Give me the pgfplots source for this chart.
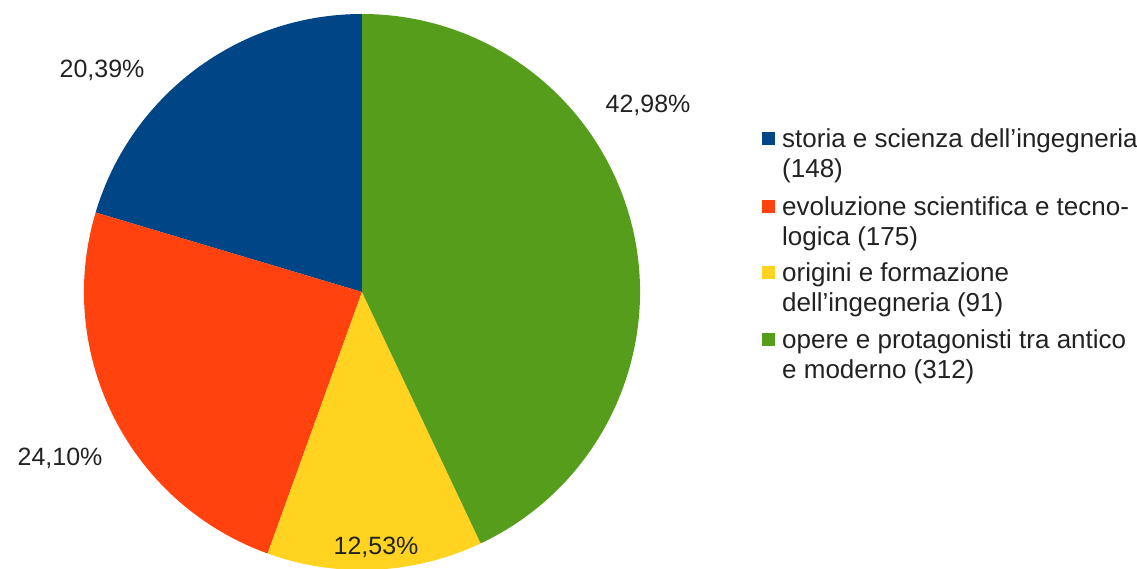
\documentclass[border=0pt]{standalone}
\usepackage{pgfplots}
\usepackage{pgfplotstable}
\pgfplotsset{compat=1.18}
\usepackage{fontspec}
\setmainfont{Liberation Sans}
\definecolor{cA}{HTML}{004586}
\definecolor{cB}{HTML}{FF420E}
\definecolor{cC}{HTML}{FFD320}
\definecolor{cD}{HTML}{579D1C}
\definecolor{txt}{HTML}{222222}

\pgfplotstableread{
label value
storia 148
evoluzione 175
origini 91
opere 312
}\piedata

\begin{document}%
\begin{tikzpicture}
\pgfplotstablegetelem{0}{value}\of\piedata \let\vA\pgfplotsretval
\pgfplotstablegetelem{1}{value}\of\piedata \let\vB\pgfplotsretval
\pgfplotstablegetelem{2}{value}\of\piedata \let\vC\pgfplotsretval
\pgfplotstablegetelem{3}{value}\of\piedata \let\vD\pgfplotsretval
\pgfmathsetmacro\tot{\vA+\vB+\vC+\vD}
\pgfmathsetmacro\aA{90}
\pgfmathsetmacro\aB{\aA+360*(\vA/\tot)}
\pgfmathsetmacro\aC{\aB+360*(\vB/\tot)}
\pgfmathsetmacro\aD{\aC+360*(\vC/\tot)}
\pgfmathsetmacro\aE{\aD+360*(\vD/\tot)}
\useasboundingbox (0,0) rectangle (1137bp,569bp);
\begin{axis}[
  at={(0,0)}, anchor=south west,
  scale only axis, width=1137bp, height=569bp,
  xmin=0, xmax=1137, ymin=0, ymax=569,
  hide axis, clip=false,
]
\def\cx{362}\def\cy{277}\def\R{278}
\fill[cA] (axis cs:\cx,\cy) -- (axis cs:{\cx+\R*cos(\aA)},{\cy+\R*sin(\aA)}) arc[start angle=\aA, end angle=\aB, radius=278bp] -- cycle;
\fill[cB] (axis cs:\cx,\cy) -- (axis cs:{\cx+\R*cos(\aB)},{\cy+\R*sin(\aB)}) arc[start angle=\aB, end angle=\aC, radius=278bp] -- cycle;
\fill[cC] (axis cs:\cx,\cy) -- (axis cs:{\cx+\R*cos(\aC)},{\cy+\R*sin(\aC)}) arc[start angle=\aC, end angle=\aD, radius=278bp] -- cycle;
\fill[cD] (axis cs:\cx,\cy) -- (axis cs:{\cx+\R*cos(\aD)},{\cy+\R*sin(\aD)}) arc[start angle=\aD, end angle=\aE, radius=278bp] -- cycle;
% percentage labels
\begin{scope}[every node/.style={font=\fontsize{25bp}{30bp}\selectfont, text=txt, inner sep=0pt}]
\node at (axis cs:102,499) {20,39\%};
\node at (axis cs:648,464) {42,98\%};
\node at (axis cs:60,111) {24,10\%};
\node at (axis cs:376,22) {12,53\%};
\end{scope}
% legend
\fill[cA] (axis cs:762,424) rectangle (axis cs:775,437);
\fill[cB] (axis cs:762,356) rectangle (axis cs:775,369);
\fill[cC] (axis cs:762,290) rectangle (axis cs:775,303);
\fill[cD] (axis cs:762,223) rectangle (axis cs:775,236);
\begin{scope}[every node/.style={font=\fontsize{26bp}{30bp}\selectfont, text=txt, inner sep=0pt, anchor=base west}]
\node at (axis cs:782,421) {storia e scienza dell’ingegneria};
\node at (axis cs:782,391.5) {(148)};
\node at (axis cs:782,353) {evoluzione scientifica e tecno-};
\node at (axis cs:782,323) {logica (175)};
\node at (axis cs:782,287) {origini e formazione};
\node at (axis cs:782,257) {dell’ingegneria (91)};
\node at (axis cs:782,220) {opere e protagonisti tra antico};
\node at (axis cs:782,190) {e moderno (312)};
\end{scope}
\end{axis}
\end{tikzpicture}%
\end{document}
